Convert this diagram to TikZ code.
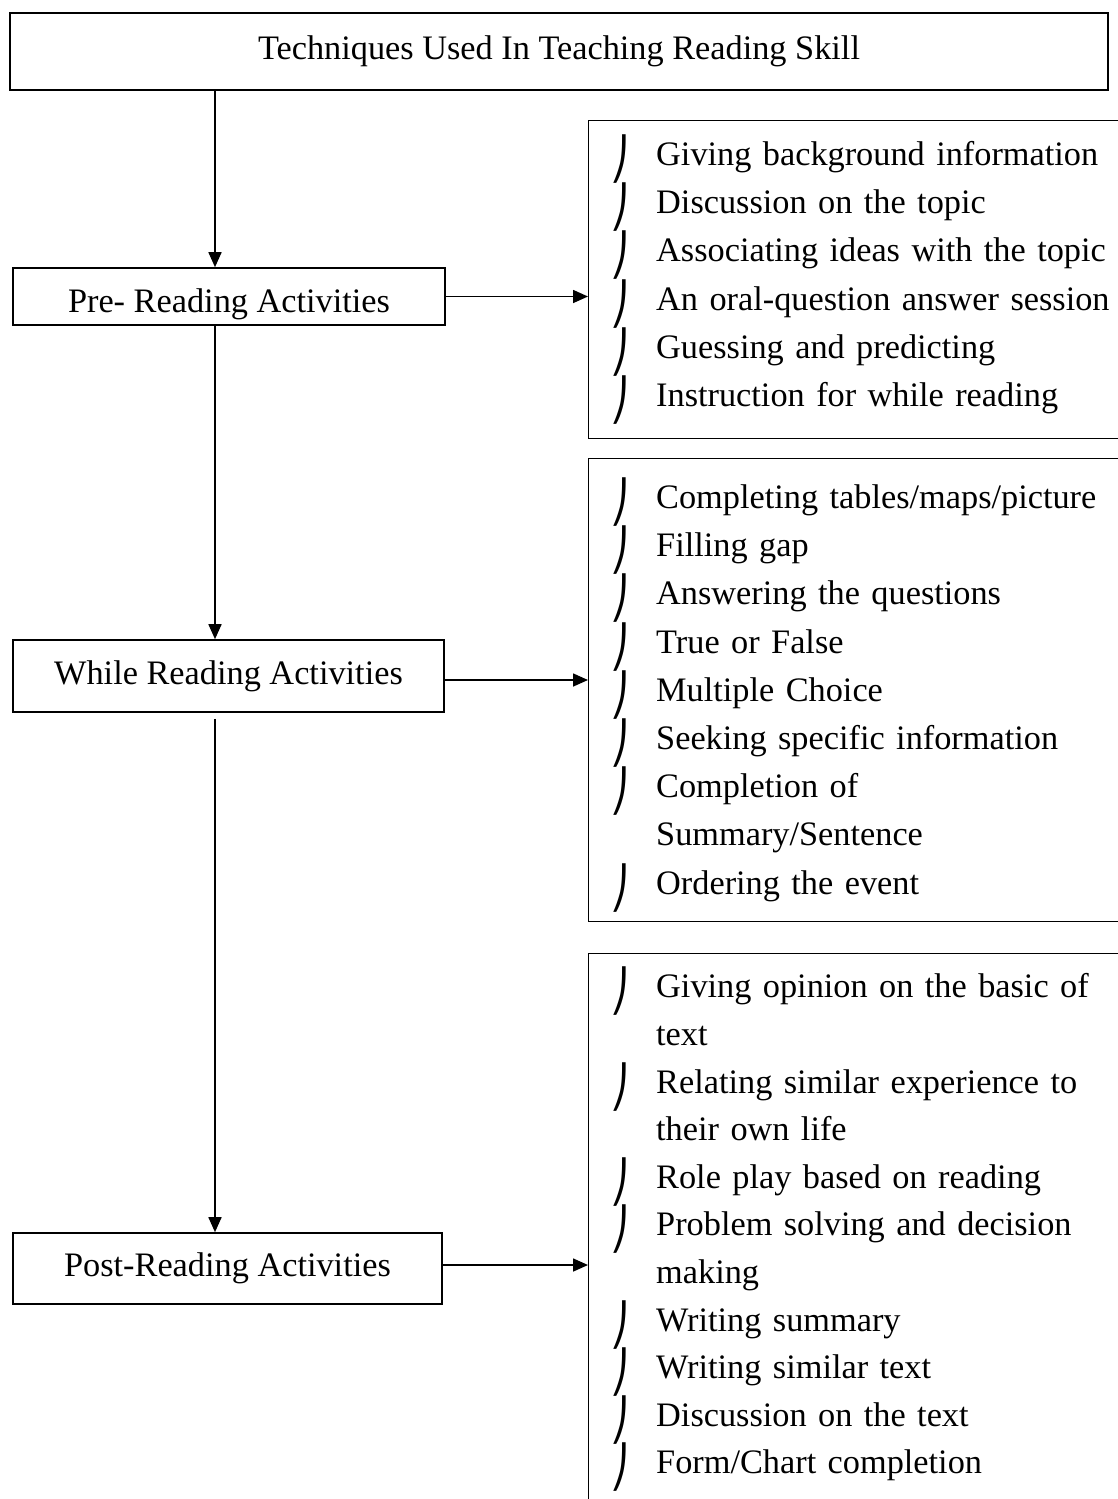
\documentclass[tikz,border=0pt]{standalone}
\usepackage{fontspec}
\setmainfont{Liberation Serif}
\newfontfamily\bulfont{DejaVu Sans}
\usetikzlibrary{arrows.meta}

\newcommand{\bul}{\raisebox{-8pt}[0pt][0pt]{\scalebox{1.1}[1.2]{\bulfont ⎠}}}
\newcommand{\itm}[1]{\par\noindent\hangindent=46pt\hangafter=1\strut\makebox[46pt][l]{\bul}#1\strut}

\tikzset{
  txt/.style={font=\fontsize{34.3}{48.2}\selectfont},
  stage/.style={draw, line width=1.6pt, inner sep=0pt, txt},
  listbox/.style={draw, line width=1.4pt, inner sep=0pt, minimum width=600pt, anchor=north west},
  listtext/.style={text width=560pt, inner sep=0pt, align=left, anchor=north west, txt},
  arr/.style={line width=1.6pt, -{Triangle[length=15pt,width=13pt]}}
}

\begin{document}
\begin{tikzpicture}[x=1pt, y=-1pt]
  \useasboundingbox (0,0) rectangle (1117,1499);

  \node[stage, minimum width=1098pt, minimum height=77pt] (title) at (559,51.5) {Techniques Used In Teaching Reading Skill};
  \node[stage, minimum width=432pt, minimum height=57pt, text height=31pt, text depth=0pt] (pre) at (229,296.5) {Pre- Reading Activities};
  \node[stage, minimum width=431pt, minimum height=72pt] (while) at (228.5,676) {While Reading Activities};
  \node[stage, minimum width=429pt, minimum height=71pt] (post) at (227.5,1268.5) {Post-Reading Activities};
  \coordinate (spine) at (215,0);

  \node[listbox, minimum height=318pt] (pbox) at (588,120) {};
  \node[listtext] (plist) at (610,117) {%
    \itm{Giving background information}
    \itm{Discussion on the topic}
    \itm{Associating ideas with the topic}
    \itm{An oral-question answer session}
    \itm{Guessing and predicting}
    \itm{Instruction for while reading}};

  \node[listbox, minimum height=463pt] (wbox) at (588,458) {};
  \node[listtext] (wlist) at (610,460) {%
    \itm{Completing tables/maps/picture}
    \itm{Filling gap}
    \itm{Answering the questions}
    \itm{True or False}
    \itm{Multiple Choice}
    \itm{Seeking specific information}
    \itm{Completion of\newline Summary/Sentence}
    \itm{Ordering the event}};

  \node[listbox, minimum height=600pt] (qbox) at (588,953) {};
  \node[listtext, font=\fontsize{34.3}{47.6}\selectfont] (qlist) at (610,950) {%
    \itm{Giving opinion on the basic of\newline text}
    \itm{Relating similar experience to\newline their own life}
    \itm{Role play based on reading}
    \itm{Problem solving and decision\newline making}
    \itm{Writing summary}
    \itm{Writing similar text}
    \itm{Discussion on the text}
    \itm{Form/Chart completion}};

  % down the left column
  \draw[arr] (title.south -| spine) -- (pre.north -| spine);
  \draw[arr] (pre.south -| spine) -- (while.north -| spine);
  \draw[arr] ([yshift=-6pt]while.south -| spine) -- (post.north -| spine);

  % across to the lists
  \draw[arr] (pre.east) -- (pre.east -| pbox.west);
  \draw[arr] ([yshift=-4pt]while.east) -- ([yshift=-4pt]while.east -| wbox.west);
  \draw[arr] ([yshift=3.5pt]post.east) -- ([yshift=3.5pt]post.east -| qbox.west);
\end{tikzpicture}
\end{document}
